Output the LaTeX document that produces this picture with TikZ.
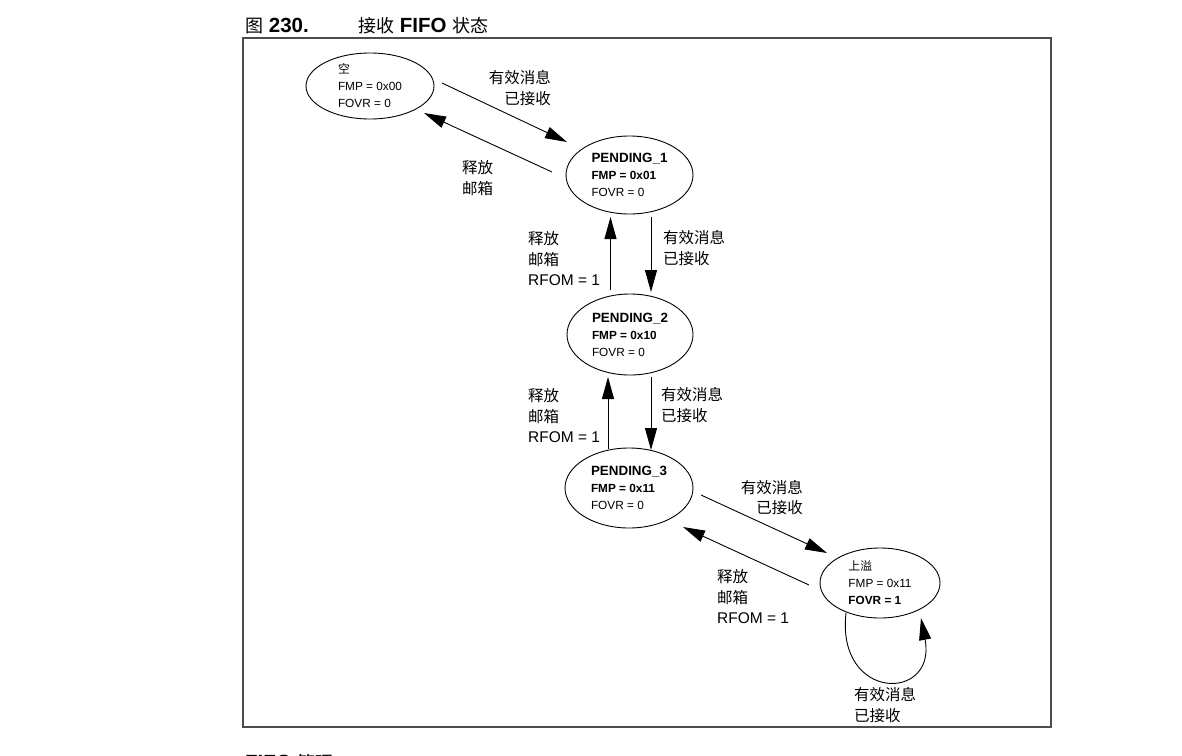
\documentclass[tikz,border=0pt]{standalone}
\usepackage{fontspec}
\setmainfont{Liberation Sans}
\newfontfamily\cjk{Noto Sans CJK SC}
\usetikzlibrary{arrows.meta,shapes.geometric}
\begin{document}
\begin{tikzpicture}[x=1pt,y=-1pt,
  state/.style={draw, ellipse, line width=0.9pt, inner sep=0pt, align=left,
    font=\fontsize{11.8}{17}\selectfont},
  lbl/.style={inner sep=0pt, font=\cjk\fontsize{15.5}{20.5}\selectfont},
  arr/.style={-{Triangle[length=22pt,width=12pt]}, line width=0.9pt},
  frame/.style={draw=black!70, line width=1.1pt},
  head/.style={inner sep=0pt, anchor=base west, font=\fontsize{20.5}{24}\selectfont\bfseries}]
\newcommand\hcjk[1]{{\cjk\mdseries\fontsize{18}{22}\selectfont #1}}
\useasboundingbox (0,0) rectangle (1182,755);

% caption
\node[head] (cap1) at (245,32) {\hcjk{图} 230.};
\node[head] (cap2) at (358,32) {\hcjk{接收} FIFO \hcjk{状态}};

% frame
\draw[frame] (243,38) rectangle (1051,727);

% states
\node[state, minimum width=128pt, minimum height=66pt] (s0) at (370,86)
  {{\cjk 空}\\FMP = 0x00\\FOVR = 0};
\node[state, minimum width=127pt, minimum height=78pt] (s1) at (629.5,175)
  {{\fontsize{13.4}{17}\selectfont\bfseries PENDING\_1}\\\textbf{FMP = 0x01}\\FOVR = 0};
\node[state, minimum width=126pt, minimum height=81pt] (s2) at (630,334.5)
  {{\fontsize{13.4}{17}\selectfont\bfseries PENDING\_2}\\\textbf{FMP = 0x10}\\FOVR = 0};
\node[state, minimum width=128pt, minimum height=80pt] (s3) at (629,488)
  {{\fontsize{13.4}{17}\selectfont\bfseries PENDING\_3}\\\textbf{FMP = 0x11}\\FOVR = 0};
\node[state, minimum width=120pt, minimum height=70pt] (s4) at (880,583)
  {{\cjk 上溢}\\FMP = 0x11\\\textbf{FOVR = 1}};

% transitions
\draw[arr] ([shift={(72,-3)}]s0.center) -- ([shift={(-62.5,-33)}]s1.center);
\draw[arr] ([shift={(-77.5,-3)}]s1.center) -- ([shift={(54,27)}]s0.center);
\draw[arr] ([shift={(-19.5,-44.5)}]s2.center) -- ([shift={(-19,42)}]s1.center);
\draw[arr] ([shift={(21.5,42)}]s1.center) -- ([shift={(21,-42.5)}]s2.center);
\draw[arr] ([shift={(-21,-39)}]s3.center) -- ([shift={(-22,42.5)}]s2.center);
\draw[arr] ([shift={(21,42.5)}]s2.center) -- ([shift={(22,-38)}]s3.center);
\draw[arr] ([shift={(72,7)}]s3.center) -- ([shift={(-53,-30)}]s4.center);
\draw[arr] ([shift={(-71,2)}]s4.center) -- ([shift={(54,39)}]s3.center);
\draw[arr] ([shift={(-34,30)}]s4.center) .. controls (836,702) and (937,702) .. ([shift={(41,35)}]s4.center);

% transition labels
\node[lbl, align=right, anchor=east] (l1) at (551,88) {有效消息\\已接收};
\node[lbl, align=left, anchor=west] (l2) at (462,178) {释放\\邮箱};
\node[lbl, align=left, anchor=west] (l3) at (528,259) {释放\\邮箱\\\rmfamily RFOM = 1};
\node[lbl, align=left, anchor=west] (l4) at (663,248) {有效消息\\已接收};
\node[lbl, align=left, anchor=west] (l5) at (528,416) {释放\\邮箱\\\rmfamily RFOM = 1};
\node[lbl, align=left, anchor=west] (l6) at (661,405) {有效消息\\已接收};
\node[lbl, align=right, anchor=east] (l7) at (803,497.5) {有效消息\\已接收};
\node[lbl, align=left, anchor=west] (l8) at (717,597) {释放\\邮箱\\\rmfamily RFOM = 1};
\node[lbl, align=left, anchor=west] (l9) at (854,705) {有效消息\\已接收};

% next section heading, running off the lower edge
\begin{scope}
\clip (0,0) rectangle (1182,755);
\node[head] (sec) at (245,769.5) {FIFO \hcjk{管理}};
\end{scope}
\end{tikzpicture}
\end{document}
